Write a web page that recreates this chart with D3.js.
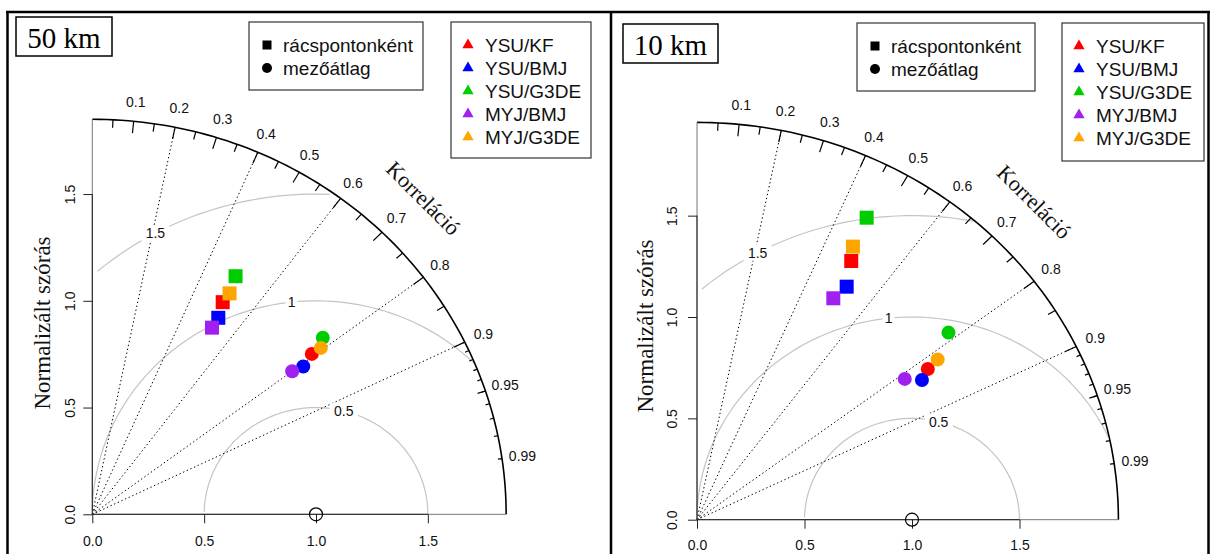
<!DOCTYPE html>
<html><head><meta charset="utf-8">
<script src="https://cdn.jsdelivr.net/npm/d3@7"></script>
<style>body{margin:0;background:#fff} svg{display:block}</style>
</head><body><svg id="c" width="1211" height="554"></svg>
<script>
// ---------- data ----------
const models = ["YSU/KF", "YSU/BMJ", "YSU/G3DE", "MYJ/BMJ", "MYJ/G3DE"];
const modelColors = ["#ff0000", "#0000ff", "#00cd00", "#a020f0", "#ffa500"];
const symbolLabels = ["rácspontonként", "mezőátlag"];
const panelTitles = ["50 km", "10 km"];
const corrTickLabels = [0.1, 0.2, 0.3, 0.4, 0.5, 0.6, 0.7, 0.8, 0.9, 0.95, 0.99];
const corrMajorTicks = [0.1, 0.2, 0.3, 0.4, 0.5, 0.6, 0.7, 0.8, 0.9];
const corrMedTicks = [0.05, 0.15, 0.25, 0.35, 0.45, 0.55, 0.65, 0.75, 0.85, 0.95];
const corrSmallTicks = [0.91, 0.92, 0.93, 0.94, 0.95, 0.96, 0.97, 0.98, 0.99];
const corrLines = [0.2, 0.4, 0.6, 0.8, 0.9];
const sdTicks = [0, 0.5, 1.0, 1.5];
const rmsLevels = [0.5, 1, 1.5];
const refSd = 1;
const maxSd = [1.85, 1.96];
// 50 km (normalized SD, correlation)
const sd50Grid = [1.152, 1.079, 1.286, 1.025, 1.203];
const cor50Grid = [0.506, 0.522, 0.498, 0.522, 0.510];
const sd50Mean = [1.236, 1.170, 1.321, 1.117, 1.285];
const cor50Mean = [0.794, 0.806, 0.780, 0.800, 0.795];
// 10 km
const sd10Grid = [1.464, 1.344, 1.686, 1.263, 1.530];
const cor10Grid = [0.490, 0.518, 0.468, 0.502, 0.474];
const sd10Mean = [1.306, 1.253, 1.490, 1.190, 1.370];
const cor10Mean = [0.822, 0.835, 0.785, 0.812, 0.817];

// ---------- layout ----------
const SANS = "'Liberation Sans', Arial, sans-serif";
const SERIF = "'Liberation Serif', 'Times New Roman', serif";
const svg = d3.select("#c");

const layouts = [
  {ox: 92.3, oy: 514.3, kx: 223.7, ky: 213.5, title: [16, 17, 96, 39], leg1: [249, 22, 174, 68], leg2: [451, 22, 140, 136], ylabX: 42, ylabY: 323, ytickX: 70, xpad: 13},
  {ox: 697, oy: 519.7, kx: 215, ky: 202.7, title: [623, 24, 95, 39], leg1: [857, 23, 178, 68], leg2: [1062, 23, 142, 138], ylabX: 645, ylabY: 326, ytickX: 672, xpad: 11}
];
const datasets = [
  {grid: [sd50Grid, cor50Grid], mean: [sd50Mean, cor50Mean]},
  {grid: [sd10Grid, cor10Grid], mean: [sd10Mean, cor10Mean]}
];

function drawPanel(p) {
  const L = layouts[p], D = datasets[p], M = maxSd[p];
  const g = svg.append("g");
  const x = d3.scaleLinear().domain([0, M]).range([L.ox, L.ox + M * L.kx]);
  const y = d3.scaleLinear().domain([0, M]).range([L.oy, L.oy - M * L.ky]);
  const pol = (r, c) => [x(r * c), y(r * Math.sqrt(1 - c * c))];
  const line = d3.line().x(d => x(d[0])).y(d => y(d[1]));

  // RMS (gamma) arcs
  rmsLevels.forEach((gm, i) => {
    const pts = [];
    for (let k = 0; k <= 104; k++) {
      const t = k * 0.03, px = refSd + gm * Math.cos(t), py = gm * Math.sin(t);
      if (px < 0) break;
      if (px * px + py * py <= M * M) pts.push([px, py]);
    }
    g.append("path").attr("d", line(pts)).attr("fill", "none")
      .attr("stroke", "#c4c4c4").attr("stroke-width", 1.2);
  });
  // correlation dotted lines
  corrLines.forEach(c => {
    const e = pol(M, c);
    g.append("line").attr("x1", x(0)).attr("y1", y(0)).attr("x2", e[0]).attr("y2", e[1])
      .attr("stroke", "#000").attr("stroke-width", 1).attr("stroke-dasharray", "1.4,2.6");
  });
  // gamma labels
  const labelIdx = [45, 57, 70];
  rmsLevels.forEach((gm, i) => {
    const t = (labelIdx[i] - 1) * 0.03;
    const lx = x(refSd + gm * Math.cos(t)), ly = y(gm * Math.sin(t));
    const txt = String(gm);
    const w = txt.length * 8 + 4;
    g.append("rect").attr("x", lx - w / 2).attr("y", ly - 8).attr("width", w).attr("height", 16).attr("fill", "#fff");
    g.append("text").attr("x", lx).attr("y", ly).attr("text-anchor", "middle").attr("dominant-baseline", "central")
      .attr("font-family", SANS).attr("font-size", 14).attr("fill", "#111").text(txt);
  });
  // outer arc
  const arcPts = d3.range(0, 91).map(a => {const t = a * Math.PI / 180; return [M * Math.cos(t), M * Math.sin(t)];});
  g.append("path").attr("d", line(arcPts)).attr("fill", "none").attr("stroke", "#000").attr("stroke-width", 1.6);
  // frame lines to maxSd (gray) + axes
  g.append("line").attr("x1", x(0)).attr("y1", y(0)).attr("x2", x(M)).attr("y2", y(0)).attr("stroke", "#777").attr("stroke-width", 1);
  g.append("line").attr("x1", x(0)).attr("y1", y(0)).attr("x2", x(0)).attr("y2", y(M)).attr("stroke", "#777").attr("stroke-width", 1);
  const xAxis = d3.axisBottom(x).tickValues(sdTicks).tickFormat(d3.format(".1f")).tickSize(9).tickPadding(L.xpad);
  const xa = g.append("g").attr("transform", `translate(0,${y(0)})`).call(xAxis);
  xa.select(".domain").attr("d", `M${x(0)},0H${x(1.5)}`).attr("stroke", "#222");
  xa.selectAll(".tick line").attr("stroke", "#222");
  xa.selectAll("text").attr("font-family", SANS).attr("font-size", 14).attr("fill", "#111");
  const yAxis = d3.axisLeft(y).tickValues(sdTicks).tickFormat(d3.format(".1f")).tickSize(9).tickPadding(0);
  const ya = g.append("g").attr("transform", `translate(${x(0)},0)`).call(yAxis);
  ya.select(".domain").attr("d", `M0,${y(0)}V${y(1.5)}`).attr("stroke", "#222");
  ya.selectAll(".tick line").attr("stroke", "#222");
  ya.selectAll("text").attr("font-family", SANS).attr("font-size", 14).attr("fill", "#111")
    .attr("x", 0).attr("dy", null).attr("text-anchor", "middle").attr("dominant-baseline", "central")
    .attr("transform", `translate(${L.ytickX - x(0)},0) rotate(-90)`);
  // ticks on outer arc
  const tk = (vals, f) => vals.forEach(c => {
    const a = pol(M, c), b = pol(M * f, c);
    g.append("line").attr("x1", a[0]).attr("y1", a[1]).attr("x2", b[0]).attr("y2", b[1]).attr("stroke", "#000").attr("stroke-width", 1.2);
  });
  tk(corrMajorTicks, 0.97); tk(corrMedTicks, 0.98); tk(corrSmallTicks, 0.99);
  // corr labels
  corrTickLabels.forEach(c => {
    const q = pol(M * 1.05, c);
    g.append("text").attr("x", q[0]).attr("y", q[1]).attr("text-anchor", "middle").attr("dominant-baseline", "central")
      .attr("font-family", SANS).attr("font-size", 14).attr("fill", "#111").text(String(c));
  });
  // Korreláció
  g.append("text").attr("transform", `translate(${x(M * 0.8)},${y(M * 0.8)}) rotate(45)`)
    .attr("text-anchor", "middle").attr("dominant-baseline", "central")
    .attr("font-family", SERIF).attr("font-size", 22).attr("fill", "#111").text("Korreláció");
  // y label
  g.append("text").attr("transform", `translate(${L.ylabX},${L.ylabY}) rotate(-90)`)
    .attr("text-anchor", "middle").attr("dominant-baseline", "central")
    .attr("font-family", SERIF).attr("font-size", 23).attr("fill", "#111").text("Normalizált szórás");
  // reference point
  g.append("circle").attr("cx", x(refSd)).attr("cy", y(0)).attr("r", 6.5).attr("fill", "none").attr("stroke", "#000").attr("stroke-width", 1.2);
  // data points: squares (grid), circles (mean)
  models.forEach((m, i) => {
    const q = pol(D.grid[0][i], D.grid[1][i]);
    g.append("rect").attr("x", q[0] - 7).attr("y", q[1] - 7).attr("width", 14).attr("height", 14).attr("fill", modelColors[i]);
  });
  models.forEach((m, i) => {
    const q = pol(D.mean[0][i], D.mean[1][i]);
    g.append("circle").attr("cx", q[0]).attr("cy", q[1]).attr("r", 7).attr("fill", modelColors[i]);
  });
  // title box
  const T = L.title;
  g.append("rect").attr("x", T[0]).attr("y", T[1]).attr("width", T[2]).attr("height", T[3]).attr("fill", "#fff").attr("stroke", "#000").attr("stroke-width", 1.5);
  g.append("text").attr("x", T[0] + T[2] / 2).attr("y", T[1] + T[3] / 2 + 1).attr("text-anchor", "middle").attr("dominant-baseline", "central")
    .attr("font-family", SERIF).attr("font-size", 29).attr("fill", "#000").text(panelTitles[p]);
  // legend 1
  const A = L.leg1;
  g.append("rect").attr("x", A[0]).attr("y", A[1]).attr("width", A[2]).attr("height", A[3]).attr("fill", "#fff").attr("stroke", "#333").attr("stroke-width", 1.2);
  symbolLabels.forEach((s, i) => {
    const cy = A[1] + 23 + i * 23, sx = A[0] + 18;
    if (i === 0) g.append("rect").attr("x", sx - 4.5).attr("y", cy - 4.5).attr("width", 9).attr("height", 9).attr("fill", "#000");
    else g.append("circle").attr("cx", sx).attr("cy", cy).attr("r", 5).attr("fill", "#000");
    g.append("text").attr("x", sx + 16).attr("y", cy).attr("dominant-baseline", "central")
      .attr("font-family", SANS).attr("font-size", 19).attr("fill", "#111").text(s);
  });
  // legend 2
  const B = L.leg2;
  g.append("rect").attr("x", B[0]).attr("y", B[1]).attr("width", B[2]).attr("height", B[3]).attr("fill", "#fff").attr("stroke", "#333").attr("stroke-width", 1.2);
  const tri = d3.symbol().type(d3.symbolTriangle).size(55);
  models.forEach((m, i) => {
    const cy = B[1] + 23 + i * 23, sx = B[0] + 17;
    g.append("path").attr("d", tri()).attr("transform", `translate(${sx},${cy})`).attr("fill", modelColors[i]);
    g.append("text").attr("x", sx + 17).attr("y", cy).attr("dominant-baseline", "central")
      .attr("font-family", SANS).attr("font-size", 19).attr("fill", "#111").text(m);
  });
}

drawPanel(0);
drawPanel(1);

// outer frame
const fr = svg.append("g").attr("stroke", "#000").attr("stroke-width", 2.5);
fr.append("line").attr("x1", 6).attr("y1", 12).attr("x2", 1210).attr("y2", 12);
fr.append("line").attr("x1", 7.5).attr("y1", 12).attr("x2", 7.5).attr("y2", 554);
fr.append("line").attr("x1", 611).attr("y1", 12).attr("x2", 611).attr("y2", 554);
fr.append("line").attr("x1", 1208.5).attr("y1", 12).attr("x2", 1208.5).attr("y2", 554);
</script></body></html>
